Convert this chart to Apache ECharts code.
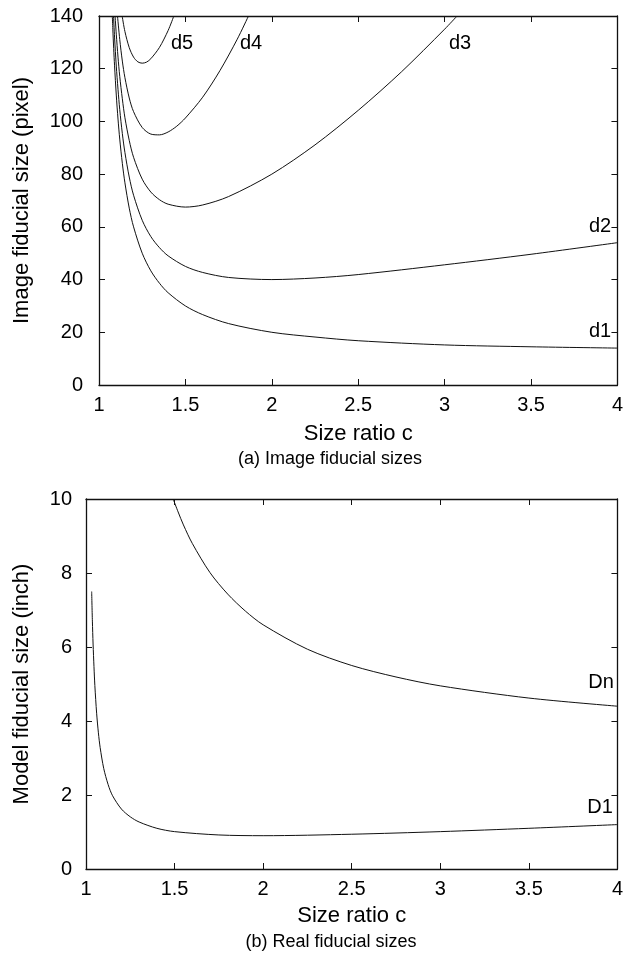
<!DOCTYPE html>
<html>
<head>
<meta charset="utf-8">
<script src="https://cdn.jsdelivr.net/npm/echarts@6/dist/echarts.min.js"></script>
<style>
  html, body { margin: 0; padding: 0; background: #fff; }
  #chart { width: 626px; height: 957px; }
</style>
</head>
<body>
<div id="chart"></div>
<script>
// Size ratio c on both horizontal axes
const xTicks = [1, 1.5, 2, 2.5, 3, 3.5, 4];
const yTicksTop = [0, 20, 40, 60, 80, 100, 120, 140];
const yTicksBottom = [0, 2, 4, 6, 8, 10];

// (a) image fiducial sizes in pixels: [c, size]
const d1 = [[1.077,140],[1.08,135],[1.085,127.6],[1.09,121.1],[1.1,110],[1.11,100.9],[1.12,93.3],[1.135,84.1],[1.15,76.7],[1.175,67.1],[1.2,60],[1.25,50],[1.3,43.3],[1.35,38.6],[1.4,35],[1.5,30],[1.6,26.7],[1.75,23.3],[2,20],[2.25,18.2],[2.5,16.8],[3,15.2],[3.5,14.5],[4,14]];
const d2 = [[1.084,140],[1.09,132],[1.1,121],[1.11,112.2],[1.12,104.5],[1.135,95.4],[1.15,88.2],[1.175,78.9],[1.2,72],[1.25,62.5],[1.3,56.3],[1.35,52.1],[1.4,49],[1.5,45],[1.6,42.7],[1.75,40.8],[2,40],[2.25,40.6],[2.5,41.9],[3,45.6],[3.5,49.6],[4,54]];
const d3 = [[1.093,140],[1.1,133.1],[1.11,124.4],[1.12,117.1],[1.135,108.6],[1.15,101.4],[1.175,92.8],[1.2,86.4],[1.25,78.1],[1.3,73.2],[1.35,70.3],[1.4,68.6],[1.5,67.5],[1.6,68.3],[1.75,71.5],[2,80],[2.25,91.1],[2.5,104.2],[2.75,118.8],[3,135],[3.072,140]];
const d4 = [[1.107,140],[1.12,131.1],[1.135,122.9],[1.15,116.6],[1.175,108.9],[1.2,103.7],[1.25,97.7],[1.3,95.2],[1.35,94.9],[1.4,96],[1.45,98.2],[1.5,101.3],[1.6,109.2],[1.7,119.3],[1.8,131.2],[1.865,140]];
const d5 = [[1.134,140],[1.15,134.1],[1.175,128],[1.2,124.4],[1.225,122.6],[1.25,122.1],[1.275,122.5],[1.3,123.8],[1.35,128.1],[1.4,134.5],[1.433,140]];

// (b) real fiducial sizes in inches: [c, size]
const D1 = [[1.032,7.5],[1.036,6.7],[1.04,6.08],[1.045,5.47],[1.05,4.96],[1.06,4.21],[1.07,3.68],[1.08,3.28],[1.1,2.72],[1.125,2.28],[1.15,1.98],[1.2,1.62],[1.25,1.41],[1.3,1.27],[1.4,1.1],[1.5,1.01],[1.75,0.92],[2,0.9],[2.5,0.94],[3,1.01],[3.5,1.1],[4,1.2]];
const Dn = [[1.492,10],[1.52,9.65],[1.55,9.3],[1.6,8.8],[1.7,8.01],[1.8,7.43],[1.9,6.97],[2,6.6],[2.25,5.94],[2.5,5.5],[2.75,5.19],[3,4.95],[3.5,4.62],[4,4.4]];

const FONT = '"Liberation Sans", Arial, Helvetica, sans-serif';
const INK = '#111';

function mainX(grid, gap) {
  return {
    type: 'value', gridIndex: grid, position: 'bottom',
    min: xTicks[0], max: xTicks[xTicks.length - 1], interval: xTicks[1] - xTicks[0],
    name: 'Size ratio c', nameLocation: 'middle', nameGap: gap,
    nameTextStyle: { fontFamily: FONT, fontSize: 22, color: '#000' },
    axisLine: { show: true, onZero: false, lineStyle: { color: INK, width: 1.3 } },
    axisTick: { show: true, inside: true, length: 6, lineStyle: { color: INK } },
    axisLabel: { fontFamily: FONT, fontSize: 20, color: '#000', margin: 10, hideOverlap: false, showMaxLabel: true, showMinLabel: true },
    splitLine: { show: false }
  };
}
function mirrorX(grid) {
  return {
    type: 'value', gridIndex: grid, position: 'top',
    min: xTicks[0], max: xTicks[xTicks.length - 1], interval: xTicks[1] - xTicks[0],
    axisLine: { show: true, onZero: false, lineStyle: { color: INK, width: 1.3 } },
    axisTick: { show: true, inside: true, length: 6, lineStyle: { color: INK } },
    axisLabel: { show: false }, splitLine: { show: false }
  };
}
function mainY(grid, ticks, name, gap, margin) {
  return {
    type: 'value', gridIndex: grid, position: 'left',
    min: ticks[0], max: ticks[ticks.length - 1], interval: ticks[1] - ticks[0],
    name: name, nameLocation: 'middle', nameGap: gap,
    nameTextStyle: { fontFamily: FONT, fontSize: 22, color: '#000' },
    axisLine: { show: true, onZero: false, lineStyle: { color: INK, width: 1.3 } },
    axisTick: { show: true, inside: true, length: 6, lineStyle: { color: INK } },
    axisLabel: { fontFamily: FONT, fontSize: 20, color: '#000', margin: margin },
    splitLine: { show: false }
  };
}
function mirrorY(grid, ticks) {
  return {
    type: 'value', gridIndex: grid, position: 'right',
    min: ticks[0], max: ticks[ticks.length - 1], interval: ticks[1] - ticks[0],
    axisLine: { show: true, onZero: false, lineStyle: { color: INK, width: 1.3 } },
    axisTick: { show: true, inside: true, length: 6, lineStyle: { color: INK } },
    axisLabel: { show: false }, splitLine: { show: false }
  };
}
function curve(data, xi, yi) {
  return {
    type: 'line', data: data, xAxisIndex: xi, yAxisIndex: yi,
    showSymbol: false, symbol: 'none', smooth: 0.3, clip: true,
    lineStyle: { color: INK, width: 1 }, silent: true
  };
}
function tag(text, x, y) {
  return { type: 'text', x: x, y: y, style: { text: text, fontFamily: FONT, fontSize: 20, fill: '#000', align: 'center', verticalAlign: 'middle' } };
}
function caption(text, x, y) {
  return { type: 'text', x: x, y: y, style: { text: text, fontFamily: FONT, fontSize: 18, fill: '#000', align: 'center', verticalAlign: 'middle' } };
}

const chart = echarts.init(document.getElementById('chart'), null, { renderer: 'canvas' });
chart.setOption({
  animation: false,
  backgroundColor: '#fff',
  grid: [
    { left: 99, top: 16, right: 3.5, height: 369, containLabel: false },
    { left: 86, top: 499, right: 3.5, height: 370, containLabel: false }
  ],
  xAxis: [mainX(0, 38), mirrorX(0), mainX(1, 36), mirrorX(1)],
  yAxis: [
    mainY(0, yTicksTop, 'Image fiducial size (pixel)', 66, 16),
    mirrorY(0, yTicksTop),
    mainY(1, yTicksBottom, 'Model fiducial size (inch)', 53, 14),
    mirrorY(1, yTicksBottom)
  ],
  series: [
    curve(d1, 0, 0), curve(d2, 0, 0), curve(d3, 0, 0), curve(d4, 0, 0), curve(d5, 0, 0),
    curve(D1, 2, 2), curve(Dn, 2, 2)
  ],
  graphic: [
    tag('d5', 182, 43), tag('d4', 251, 43), tag('d3', 460, 43),
    tag('d2', 600, 226), tag('d1', 600, 331),
    tag('Dn', 601, 682), tag('D1', 600, 807),
    caption('(a) Image fiducial sizes', 330, 459),
    caption('(b) Real fiducial sizes', 331, 942)
  ]
});
</script>
</body>
</html>
